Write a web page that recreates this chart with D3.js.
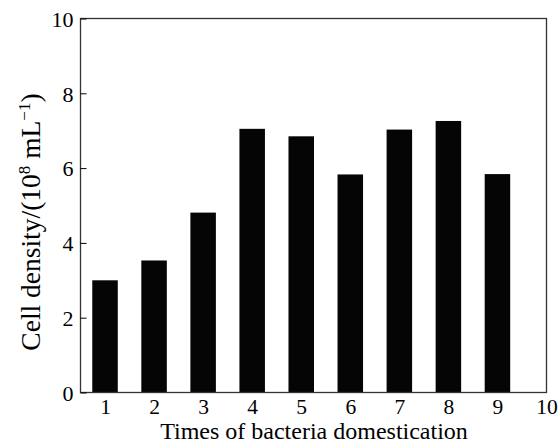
<!DOCTYPE html>
<html><head><meta charset="utf-8">
<script src="https://cdn.jsdelivr.net/npm/d3@7"></script>
<style>body{margin:0;background:#fff}svg{display:block}text{font-family:"Liberation Serif","Times New Roman",serif;fill:#000}</style>
</head><body>
<script>
const categories = [1,2,3,4,5,6,7,8,9];
const values = [3.00, 3.53, 4.81, 7.05, 6.85, 5.83, 7.03, 7.26, 5.84];
const xTicks = [1,2,3,4,5,6,7,8,9,10];
const yTicks = [0,2,4,6,8,10];

const W = 558, H = 443;
const m = {left: 80.5, right: 11.5, top: 18.5, bottom: 50.5};
const svg = d3.select("body").append("svg").attr("width", W).attr("height", H);
const x = d3.scaleLinear().domain([0.5, 10]).range([m.left, W - m.right]);
const y = d3.scaleLinear().domain([0, 10]).range([H - m.bottom, m.top]);
const bw = x(1.52) - x(1);

svg.append("g").selectAll("rect").data(categories).join("rect")
  .attr("x", (d) => x(d) - bw / 2)
  .attr("y", (d, i) => y(values[i]))
  .attr("width", bw)
  .attr("height", (d, i) => y(0) - y(values[i]))
  .attr("fill", "#050505");

svg.append("rect").attr("x", m.left).attr("y", m.top)
  .attr("width", W - m.right - m.left).attr("height", H - m.bottom - m.top)
  .attr("fill", "none").attr("stroke", "#333").attr("stroke-width", 1.3);

const yAx = svg.append("g").attr("transform", `translate(${m.left},0)`)
  .call(d3.axisRight(y).tickValues(yTicks).tickSize(6).tickFormat(d3.format("d")));
yAx.select(".domain").remove();
yAx.attr("font-family", '"Liberation Serif",serif');
yAx.selectAll("line").attr("stroke", "#000");
yAx.selectAll("text").attr("x", -7).attr("text-anchor", "end").attr("dy", "0.35em")
  .attr("font-size", 22);

const xAx = svg.append("g").attr("transform", `translate(0,${H - m.bottom})`)
  .call(d3.axisBottom(x).tickValues(xTicks).tickSize(0).tickFormat(d3.format("d")));
xAx.select(".domain").remove();
xAx.attr("font-family", '"Liberation Serif",serif');
xAx.selectAll("text").attr("y", 21.5).attr("dy", 0)
  .attr("font-size", 21.5);

svg.append("text").attr("x", 314).attr("y", 438.5)
  .attr("text-anchor", "middle").attr("font-size", 24)
  .text("Times of bacteria domestication");

const yl = svg.append("text").attr("transform", `translate(40,222) rotate(-90)`)
  .attr("text-anchor", "middle").attr("font-size", 27.5);
yl.append("tspan").text("Cell density/(10");
yl.append("tspan").attr("dy", -10).attr("font-size", 17).text("8");
yl.append("tspan").attr("dy", 10).text(" mL");
yl.append("tspan").attr("dy", -10).attr("font-size", 17).text("\u22121");
yl.append("tspan").attr("dy", 10).text(")");
</script>
</body></html>
